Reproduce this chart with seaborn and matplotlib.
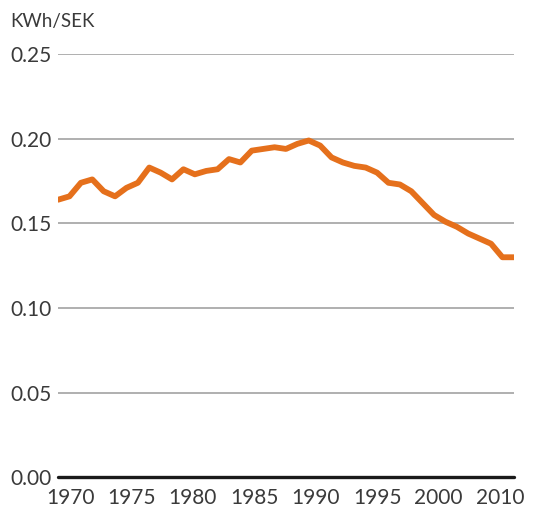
import numpy as np
import pandas as pd
import matplotlib
matplotlib.use("Agg")
import matplotlib.pyplot as plt
import seaborn as sns

# data
years = list(range(1970, 2011))
kwh_per_sek = [0.164, 0.166, 0.174, 0.176, 0.169, 0.166, 0.171, 0.174, 0.183, 0.180,
               0.176, 0.182, 0.179, 0.181, 0.182, 0.188, 0.186, 0.193, 0.194, 0.195,
               0.194, 0.197, 0.199, 0.196, 0.189, 0.186, 0.184, 0.183, 0.180, 0.174,
               0.173, 0.169, 0.162, 0.155, 0.151, 0.148, 0.144, 0.141, 0.138, 0.130,
               0.130]
year_labels = ['1970', '1975', '1980', '1985', '1990', '1995', '2000', '2010']
y_ticks = [0.00, 0.05, 0.10, 0.15, 0.20, 0.25]

df = pd.DataFrame({'year': years, 'value': kwh_per_sek})

sns.set_style("white")
plt.rcParams['font.family'] = ['Lato', 'DejaVu Sans']

fig = plt.figure(figsize=(5.33, 5.11), dpi=100)
ax = fig.add_axes([0.109, 0.066, 0.855, 0.828])

# gridlines
for t in y_ticks[1:]:
    ax.axhline(t, color='#9a9a9a', lw=1.1, zorder=1)
ax.axhline(0, color='#1a1a1a', lw=2.4, zorder=3, clip_on=False)

sns.lineplot(data=df, x='year', y='value', color='#E5701C', lw=4.2, ax=ax, zorder=4)

ax.set_xlim(1970, 2010)
ax.set_ylim(0, 0.25)
ax.set_yticks(y_ticks)
ax.set_yticklabels(['%.2f' % t for t in y_ticks])
# labels in the original are spread evenly, not on their years
ax.set_xticks(np.linspace(1971.05, 2008.8, len(year_labels)))
ax.set_xticklabels(year_labels)
ax.tick_params(axis='both', length=0, labelsize=15, labelcolor='#3a3a3a')
ax.tick_params(axis='y', pad=5)
ax.tick_params(axis='x', pad=8)
sns.despine(ax=ax, left=True, bottom=True)
ax.set_xlabel('')
ax.set_ylabel('')

fig.text(0.019, 0.957, 'KWh/SEK', fontsize=13.5, color='#3a3a3a',
         ha='left', va='center')

fig.savefig('out.png', dpi=100)
